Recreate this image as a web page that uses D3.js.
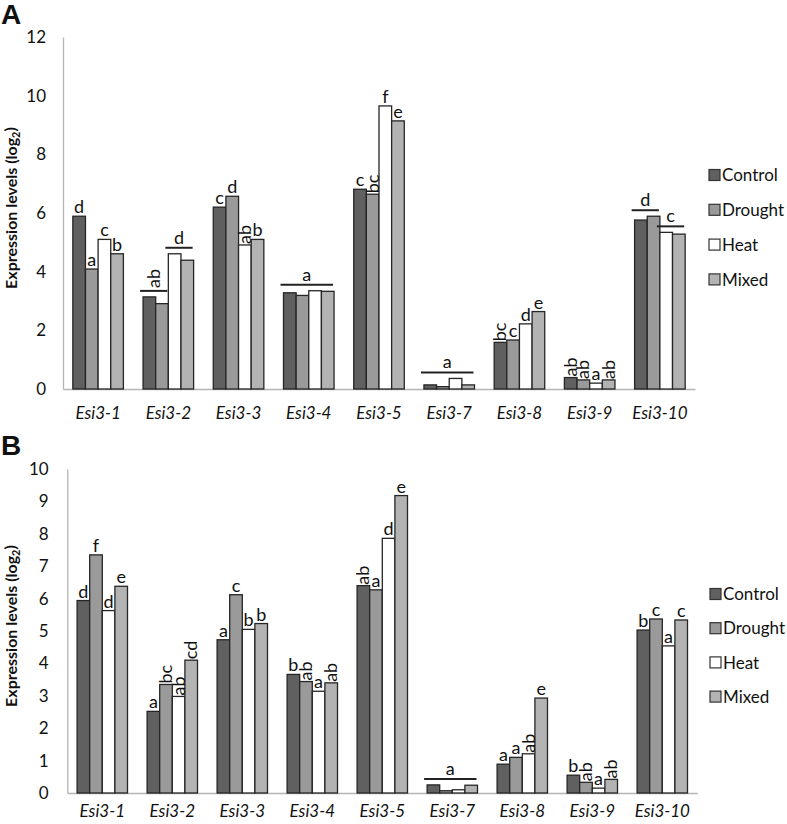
<!DOCTYPE html>
<html>
<head>
<meta charset="utf-8">
<script src="https://cdn.jsdelivr.net/npm/d3@7"></script>
<style>
  html, body { margin: 0; padding: 0; background: #fff; }
  svg { display: block; }
  text { font-family: Lato, "Open Sans", sans-serif; fill: #111; }
</style>
</head>
<body>
<svg id="chart" width="787" height="824"></svg>
<script>
// ---------- data ----------
const categories = ["Esi3-1", "Esi3-2", "Esi3-3", "Esi3-4", "Esi3-5", "Esi3-7", "Esi3-8", "Esi3-9", "Esi3-10"];
const seriesNames = ["Control", "Drought", "Heat", "Mixed"];
const seriesColors = ["#606060", "#9a9a9a", "#ffffff", "#b3b3b3"];

// Panel A
const aControl = [5.89, 3.14, 6.20, 3.28, 6.81, 0.14, 1.59, 0.39, 5.76];
const aDrought = [4.09, 2.91, 6.57, 3.19, 6.64, 0.08, 1.67, 0.31, 5.89];
const aHeat    = [5.10, 4.61, 4.91, 3.35, 9.65, 0.36, 2.22, 0.20, 5.34];
const aMixed   = [4.61, 4.39, 5.10, 3.33, 9.14, 0.14, 2.64, 0.31, 5.28];
const aTicks = [0, 2, 4, 6, 8, 10, 12];
const aLetters = [
  ["d", "a", "c", "b"],
  ["", "", "", ""],
  ["c", "d", "ab", "b"],
  ["", "", "", ""],
  ["c", "bc", "f", "e"],
  ["", "", "", ""],
  ["bc", "c", "d", "e"],
  ["ab", "ab", "a", "ab"],
  ["", "", "", ""]
];
// [category index, first series, last series, letter]
const aGroups = [[1, 0, 1, "ab"], [1, 2, 3, "d"], [3, 0, 3, "a"], [5, 0, 3, "a"], [8, 0, 1, "d"], [8, 2, 3, "c"]];

// Panel B
const bControl = [5.94, 2.52, 4.73, 3.66, 6.40, 0.25, 0.89, 0.55, 5.03];
const bDrought = [7.35, 3.35, 6.12, 3.44, 6.27, 0.07, 1.10, 0.33, 5.37];
const bHeat    = [5.63, 2.98, 5.05, 3.14, 7.86, 0.10, 1.21, 0.15, 4.54];
const bMixed   = [6.38, 4.10, 5.23, 3.40, 9.18, 0.24, 2.93, 0.42, 5.34];
const bTicks = [0, 1, 2, 3, 4, 5, 6, 7, 8, 9, 10];
const bLetters = [
  ["d", "f", "d", "e"],
  ["a", "bc", "ab", "cd"],
  ["a", "c", "b", "b"],
  ["b", "ab", "a", "ab"],
  ["ab", "a", "d", "e"],
  ["", "", "", ""],
  ["a", "a", "ab", "e"],
  ["b", "ab", "a", "ab"],
  ["b", "c", "a", "c"]
];
const bGroups = [[5, 0, 3, "a"]];

const svg = d3.select("#chart");
const LBL = "18px";

function drawPanel(cfg) {
  const g = svg.append("g");
  const x = d3.scaleBand().domain(categories).range([cfg.left, cfg.right])
    .paddingInner(0.28).paddingOuter(0.14);
  const xs = d3.scaleBand().domain(seriesNames).range([0, x.bandwidth()]);
  const y = d3.scaleLinear().domain([0, cfg.yMax]).range([cfg.bottom, cfg.top]);

  // panel letter
  g.append("text").attr("x", 1).attr("y", cfg.letterY).text(cfg.letter)
    .style("font-family", "'Liberation Sans', Arial, sans-serif")
    .style("font-weight", "bold").style("font-size", "28px");

  // y axis
  const yAxis = d3.axisLeft(y).tickValues(cfg.ticks).tickSize(0).tickPadding(cfg.tickPad);
  const ya = g.append("g").attr("transform", `translate(${cfg.left},0)`).call(yAxis);
  ya.select(".domain").attr("stroke", "#b5b5b5").attr("stroke-width", 1.3);
  ya.selectAll("text").style("font-size", "17px").style("font-family", "Lato, sans-serif").attr("fill", "#111");

  // x axis
  const xAxis = d3.axisBottom(x).tickSize(0).tickPadding(cfg.catPad);
  const xa = g.append("g").attr("transform", `translate(0,${cfg.bottom})`).call(xAxis);
  xa.select(".domain").attr("stroke", "#b5b5b5").attr("stroke-width", 1.6);
  xa.selectAll("text").style("font-size", "17px").style("font-style", "italic")
    .style("font-family", "Lato, sans-serif").attr("fill", "#111");

  // y title
  const title = g.append("text")
    .attr("transform", `translate(${cfg.titleX},${(cfg.top + cfg.bottom) / 2 - 5}) rotate(-90)`)
    .attr("text-anchor", "middle")
    .style("font-size", "16px").style("font-weight", "bold");
  title.append("tspan").text("Expression levels (log");
  title.append("tspan").text("2").attr("dy", "0.3em").style("font-size", "11px");
  title.append("tspan").text(")").attr("dy", "-0.3em");

  // bars
  const rows = [];
  categories.forEach((c, i) => {
    seriesNames.forEach((s, j) => {
      rows.push({ cat: c, ci: i, ser: s, sj: j, v: cfg.values[j][i], letter: cfg.letters[i][j] });
    });
  });
  g.append("g").selectAll("rect").data(rows).join("rect")
    .attr("x", d => x(d.cat) + xs(d.ser))
    .attr("y", d => y(d.v))
    .attr("width", xs.bandwidth())
    .attr("height", d => cfg.bottom - y(d.v))
    .attr("fill", d => seriesColors[d.sj])
    .attr("stroke", "#262626").attr("stroke-width", 1.3);

  // per-bar letters
  const lab = g.append("g").selectAll("text").data(rows.filter(d => d.letter)).join("text")
    .style("font-size", LBL).text(d => d.letter);
  lab.filter(d => d.letter.length === 1)
    .attr("x", d => x(d.cat) + xs(d.ser) + xs.bandwidth() / 2)
    .attr("y", d => y(d.v) - 3)
    .attr("text-anchor", "middle");
  lab.filter(d => d.letter.length > 1)
    .attr("text-anchor", "start")
    .attr("transform", d => `translate(${x(d.cat) + xs(d.ser) + xs.bandwidth() / 2 + 6},${y(d.v) - 1}) rotate(-90)`);

  // grouped letters with lines
  cfg.groups.forEach(([ci, s0, s1, letter]) => {
    const c = categories[ci];
    const x0 = x(c) + xs(seriesNames[s0]) - 3;
    const x1 = x(c) + xs(seriesNames[s1]) + xs.bandwidth() - 1;
    let maxV = 0;
    for (let j = s0; j <= s1; j++) maxV = Math.max(maxV, cfg.values[j][ci]);
    const ly = y(maxV) - 6;
    g.append("line").attr("x1", x0).attr("x2", x1).attr("y1", ly).attr("y2", ly)
      .attr("stroke", "#222").attr("stroke-width", 2);
    const cx = (x0 + x1) / 2;
    if (letter.length > 1) {
      g.append("text").style("font-size", LBL).text(letter)
        .attr("transform", `translate(${cx + 6},${ly - 3}) rotate(-90)`);
    } else {
      g.append("text").style("font-size", LBL).text(letter)
        .attr("x", cx).attr("y", ly - 4).attr("text-anchor", "middle");
    }
  });

  // legend
  const leg = g.append("g");
  seriesNames.forEach((s, j) => {
    const cy = cfg.legY + j * cfg.legStep;
    leg.append("rect").attr("x", cfg.legX).attr("y", cy - 5.5).attr("width", 11).attr("height", 11)
      .attr("fill", seriesColors[j]).attr("stroke", "#333").attr("stroke-width", 1.2);
    leg.append("text").attr("x", cfg.legX + 13).attr("y", cy).attr("dy", "0.36em")
      .style("font-size", "17px").text(s);
  });
}

drawPanel({
  letter: "A", letterY: 24,
  left: 63, right: 695, top: 37, bottom: 389, yMax: 12, ticks: aTicks, tickPad: 17, catPad: 18,
  titleX: 17,
  values: [aControl, aDrought, aHeat, aMixed], letters: aLetters, groups: aGroups,
  legX: 709, legY: 175, legStep: 34.8
});

drawPanel({
  letter: "B", letterY: 455,
  left: 67.3, right: 697.3, top: 469, bottom: 793, yMax: 10, ticks: bTicks, tickPad: 18.6, catPad: 12,
  titleX: 17,
  values: [bControl, bDrought, bHeat, bMixed], letters: bLetters, groups: bGroups,
  legX: 710, legY: 594, legStep: 34.2
});
</script>
</body>
</html>
